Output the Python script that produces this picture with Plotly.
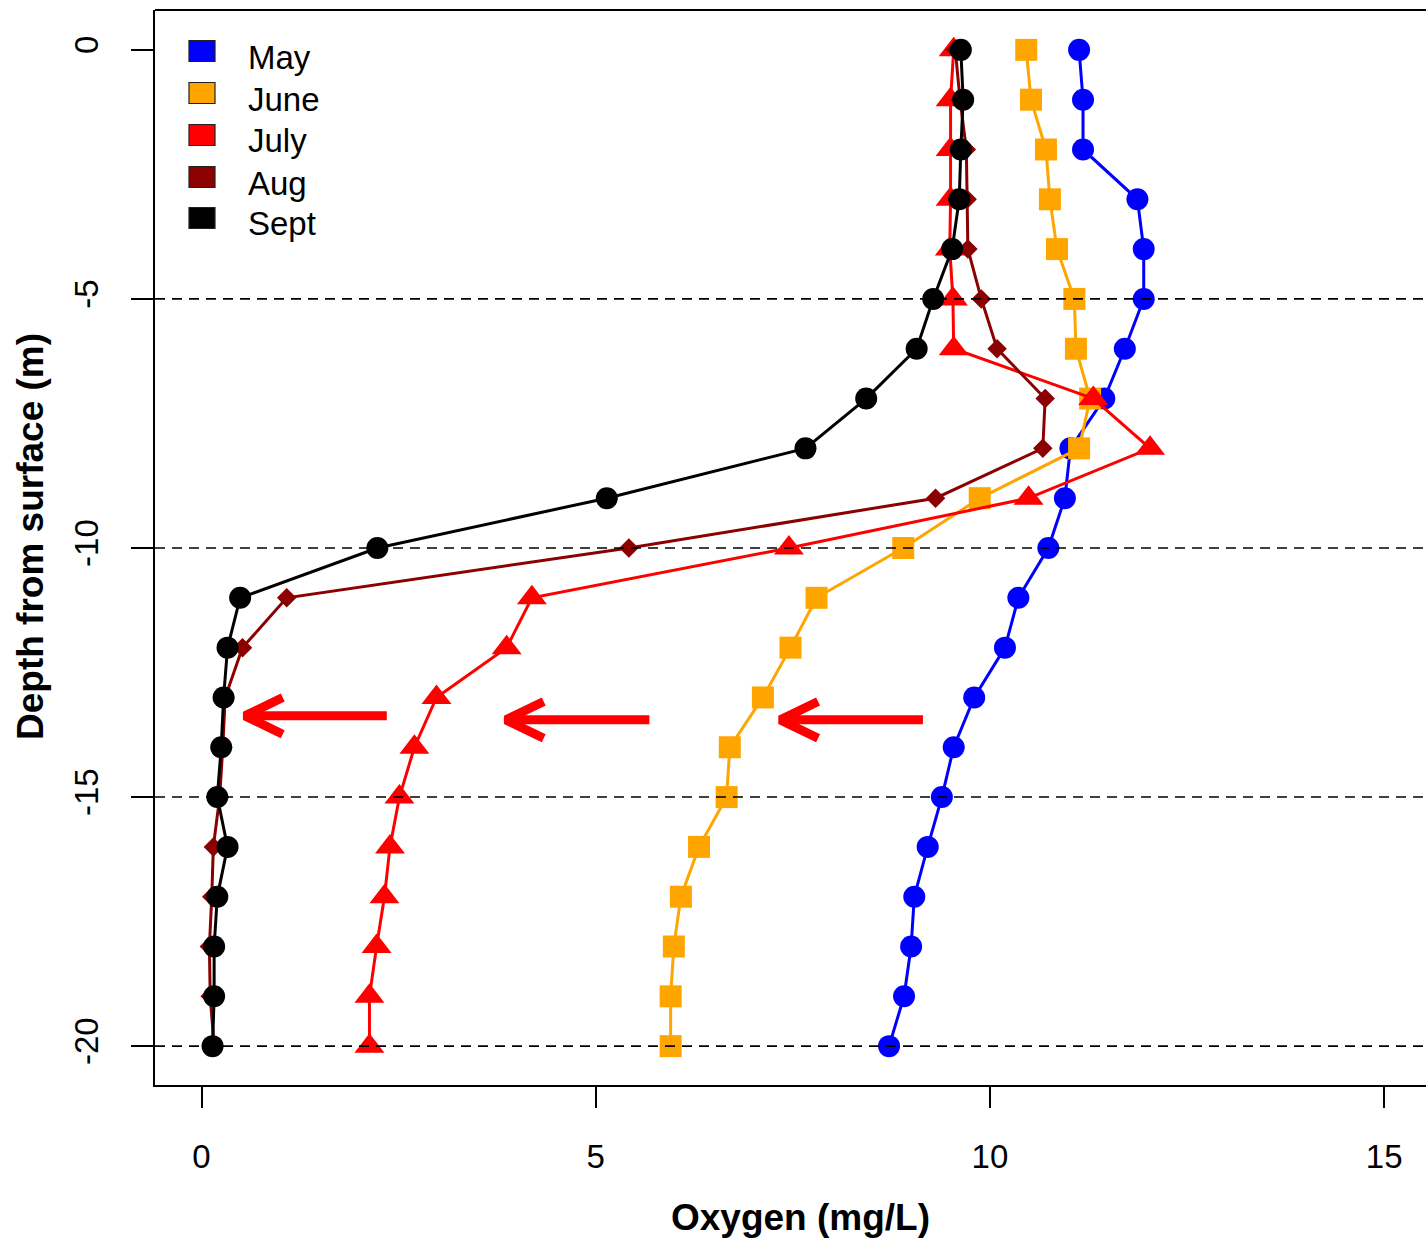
import plotly.graph_objects as go

depth = list(range(0, 21))

may = [11.13, 11.18, 11.18, 11.87, 11.95, 11.95, 11.71, 11.45, 11.02, 10.95, 10.74,
       10.36, 10.19, 9.80, 9.54, 9.39, 9.21, 9.04, 9.00, 8.91, 8.72]
june = [10.46, 10.52, 10.71, 10.76, 10.85, 11.07, 11.09, 11.27, 11.13, 9.87, 8.90,
        7.80, 7.47, 7.12, 6.70, 6.66, 6.31, 6.08, 5.99, 5.95, 5.95]
july = [9.54, 9.50, 9.50, 9.50, 9.49, 9.53, 9.54, 11.31, 12.03, 10.49, 7.45,
        4.19, 3.87, 2.98, 2.70, 2.51, 2.39, 2.32, 2.22, 2.13, 2.13]
aug = [9.56, 9.62, 9.70, 9.71, 9.72, 9.89, 10.09, 10.70, 10.67, 9.31, 5.42,
       1.08, 0.52, 0.30, 0.27, 0.23, 0.15, 0.13, 0.10, 0.11, 0.16]
sept = [9.63, 9.66, 9.63, 9.61, 9.52, 9.28, 9.07, 8.43, 7.66, 5.14, 2.23,
        0.49, 0.33, 0.28, 0.25, 0.20, 0.33, 0.20, 0.16, 0.16, 0.14]

months = ["May", "June", "July", "Aug", "Sept"]
series = [may, june, july, aug, sept]
colors = ["#0000FF", "#FFA500", "#FF0000", "#8B0000", "#000000"]
symbols = ["circle", "square", "triangle-up", "diamond", "circle"]
sizes = [22, 22, 26, 15, 22]

ref_depths = [-5, -10, -15, -20]
x_ticks = [0, 5, 10, 15]
y_ticks = [0, -5, -10, -15, -20]

# arrows: (tail oxygen, tip oxygen, depth)
arrows = [(2.35, 0.55, 13.37), (5.68, 3.86, 13.45), (9.15, 7.34, 13.45)]
head_dx, head_dy = 0.48, 0.37

fig = go.Figure()
for name, vals, col, sym, sz in zip(months, series, colors, symbols, sizes):
    fig.add_trace(go.Scatter(
        x=vals, y=[-d for d in depth], mode="lines+markers", name=name,
        line=dict(color=col, width=3),
        marker=dict(symbol=sym, size=sz, color=col, line=dict(width=0)),
        showlegend=False, hoverinfo="skip"))

for tail, tip, d in arrows:
    fig.add_trace(go.Scatter(
        x=[tail, tip + 0.08, None, tip + head_dx, tip, tip + head_dx],
        y=[-d, -d, None, -d + head_dy, -d, -d - head_dy],
        mode="lines", line=dict(color="#FF0000", width=9),
        showlegend=False, hoverinfo="skip"))

shapes = []
for yd in ref_depths:
    shapes.append(dict(type="line", xref="paper", yref="y", x0=0, x1=1, y0=yd, y1=yd,
                       line=dict(color="black", width=1.6, dash="10px,7px"), layer="above"))
# top border of the box
shapes.append(dict(type="line", xref="paper", yref="paper", x0=0, x1=1, y0=1, y1=1,
                   line=dict(color="black", width=2)))

# manual legend
W, H = 1426, 1240
ml, mt, mb = 155, 10, 155
pw, ph = W - ml, H - mt - mb
annotations = []
leg_y = [51, 93, 135, 177, 218]
for i, (name, col) in enumerate(zip(months, colors)):
    cy = leg_y[i]
    shapes.append(dict(type="rect", xref="paper", yref="paper",
                       x0=(189 - ml) / pw, x1=(215 - ml) / pw,
                       y0=(H - mb - (cy + 10.5)) / ph, y1=(H - mb - (cy - 10.5)) / ph,
                       fillcolor=col, line=dict(color="#222222", width=1.2), layer="above"))
    annotations.append(dict(xref="paper", yref="paper", x=(246 - ml) / pw,
                            y=(H - mb - (cy + 6)) / ph, text=name, showarrow=False,
                            xanchor="left", yanchor="middle",
                            font=dict(size=33, color="black")))

annotations.append(dict(xref="paper", yref="paper", x=(800 - ml) / pw, y=(H - mb - 1217) / ph,
                        text="<b>Oxygen (mg/L)</b>", showarrow=False, xanchor="center",
                        yanchor="middle", font=dict(size=37, color="black")))
annotations.append(dict(xref="paper", yref="paper", x=(30 - ml) / pw, y=(H - mb - 537) / ph,
                        text="<b>Depth from surface (m)</b>", showarrow=False, textangle=-90,
                        xanchor="center", yanchor="middle", font=dict(size=37, color="black")))

fig.update_layout(
    width=W, height=H, margin=dict(l=ml, r=0, t=mt, b=mb),
    paper_bgcolor="white", plot_bgcolor="white",
    font=dict(family="Liberation Sans, Arial, sans-serif", color="black"),
    shapes=shapes, annotations=annotations, hovermode=False,
    xaxis=dict(range=[-0.59, 15.53], tickvals=x_ticks, ticktext=[str(v) for v in x_ticks],
               showgrid=False, zeroline=False, showline=True, linecolor="black", linewidth=2,
               ticks="outside", ticklen=21, tickwidth=1.5, tickcolor="black",
               tickfont=dict(size=33), ticklabelstandoff=20),
    yaxis=dict(range=[-20.78, 0.8], tickvals=y_ticks, ticktext=[str(v) for v in y_ticks],
               showgrid=False, zeroline=False, showline=True, linecolor="black", linewidth=2,
               ticks="outside", ticklen=22, tickwidth=1.5, tickcolor="black",
               tickfont=dict(size=33), tickangle=-90, ticklabelstandoff=20),
)

fig.write_html("out.html")
